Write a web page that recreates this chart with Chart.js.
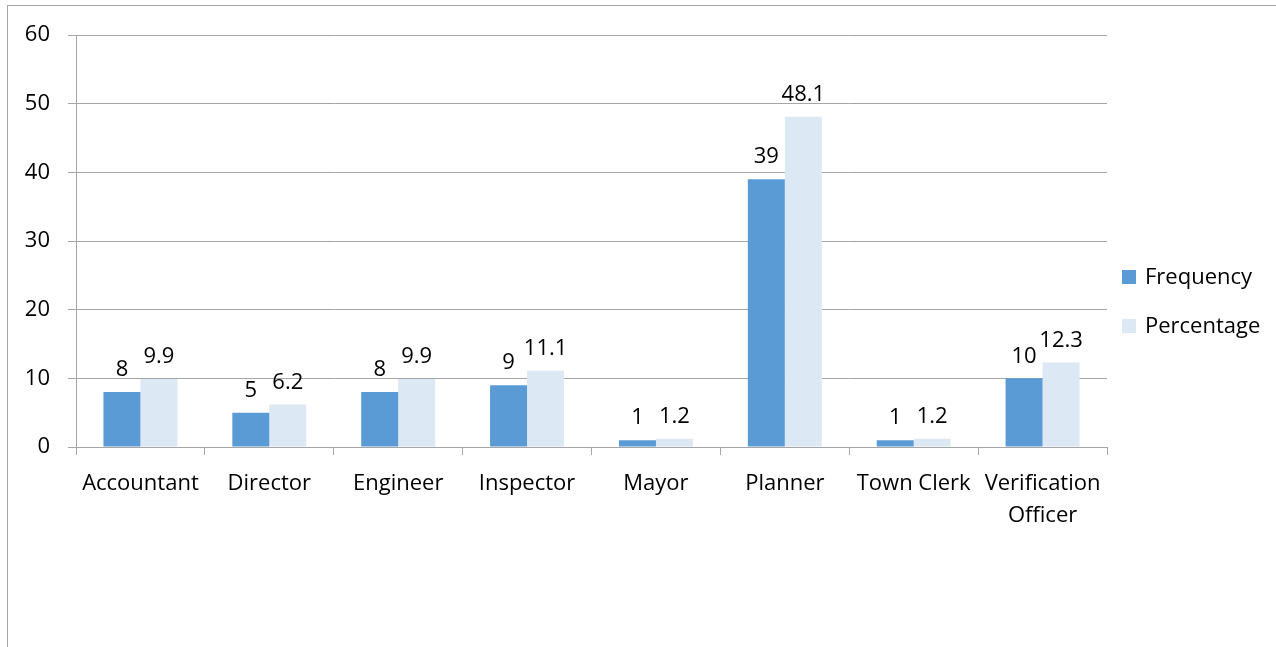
<!DOCTYPE html>
<html>
<head>
<meta charset="utf-8">
<script src="https://cdn.jsdelivr.net/npm/chart.js@4"></script>
<style>
  body { margin: 0; background: #fff; }
  #frame { position: absolute; left: 7px; top: 5px; width: 1300px; height: 700px; border: 1px solid #a6a6a6; }
  #wrap { position: absolute; left: 0; top: 0; width: 1276px; height: 647px; }
</style>
</head>
<body>
<div id="frame"></div>
<div id="wrap"><canvas id="chart" width="1276" height="647"></canvas></div>
<script>
// categories and both series
const jobTitles = ['Accountant', 'Director', 'Engineer', 'Inspector', 'Mayor', 'Planner', 'Town Clerk', ['Verification', 'Officer']];
const frequency = [8, 5, 8, 9, 1, 39, 1, 10];
const percentage = [9.9, 6.2, 9.9, 11.1, 1.2, 48.1, 1.2, 12.3];
const yTicks = [0, 10, 20, 30, 40, 50, 60];

const FONT = '"Open Sans", Lato, sans-serif';
const FONT_SIZE = 22;
const gridColor = '#a6a6a6';

// values written above each bar
const barLabels = {
  id: 'barLabels',
  afterDatasetsDraw(chart) {
    const ctx = chart.ctx;
    ctx.save();
    ctx.font = FONT_SIZE + 'px ' + FONT;
    ctx.fillStyle = '#000';
    ctx.textAlign = 'center';
    ctx.textBaseline = 'bottom';
    chart.data.datasets.forEach((ds, i) => {
      chart.getDatasetMeta(i).data.forEach((bar, j) => {
        ctx.fillText(String(ds.data[j]), bar.x, bar.y - 11);
      });
    });
    ctx.restore();
  }
};

// legend on the right, square swatches
const sideLegend = {
  id: 'sideLegend',
  afterDraw(chart) {
    const ctx = chart.ctx;
    ctx.save();
    ctx.font = FONT_SIZE + 'px ' + FONT;
    ctx.textBaseline = 'middle';
    chart.data.datasets.forEach((ds, i) => {
      const y = 277 + i * 49;
      ctx.fillStyle = ds.backgroundColor;
      ctx.fillRect(1122, y - 7, 14, 14);
      ctx.fillStyle = '#000';
      ctx.fillText(ds.label, 1145, y + 1);
    });
    ctx.restore();
  }
};

new Chart(document.getElementById('chart'), {
  type: 'bar',
  data: {
    labels: jobTitles,
    datasets: [
      { label: 'Frequency', data: frequency, backgroundColor: '#5b9bd5' },
      { label: 'Percentage', data: percentage, backgroundColor: '#dde8f5' }
    ]
  },
  options: {
    responsive: false,
    animation: false,
    layout: { padding: { left: 0, right: 169, top: 35, bottom: 0 } },
    datasets: { bar: { categoryPercentage: 0.574, barPercentage: 1 } },
    plugins: { legend: { display: false }, tooltip: { enabled: false } },
    scales: {
      x: {
        grid: { display: true, drawOnChartArea: false, drawTicks: true, tickLength: 8, color: gridColor, offset: true },
        border: { color: gridColor },
        ticks: { color: '#000', font: { family: FONT, size: FONT_SIZE, lineHeight: 1.45 }, padding: 13, maxRotation: 0, autoSkip: false },
        afterFit(scale) { scale.height = 200; }
      },
      y: {
        min: 0, max: 60,
        afterBuildTicks(scale) { scale.ticks = yTicks.map(v => ({ value: v })); },
        grid: { color: gridColor, tickLength: 8 },
        border: { color: gridColor },
        ticks: { color: '#000', font: { family: FONT, size: FONT_SIZE }, padding: 18 },
        afterFit(scale) { scale.width = 76; }
      }
    }
  },
  plugins: [barLabels, sideLegend]
});
</script>
</body>
</html>
